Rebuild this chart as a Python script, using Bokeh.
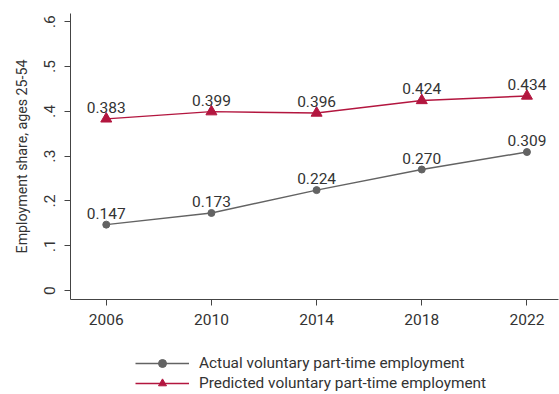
from bokeh.plotting import figure
from bokeh.layouts import column
from bokeh.models import (Range1d, FixedTicker, CustomJSTickFormatter, Legend, LegendItem,
                          ColumnDataSource)
from bokeh.core.properties import value
from bokeh.embed import file_html
from bokeh.resources import INLINE

years = [2006, 2010, 2014, 2018, 2022]
actual = [0.147, 0.173, 0.224, 0.270, 0.309]
predicted = [0.383, 0.399, 0.396, 0.424, 0.434]
y_ticks = [0, 0.1, 0.2, 0.3, 0.4, 0.5, 0.6]
x_ticks = years
y_title = "Employment share, ages 25-54"
names = ["Actual voluntary part-time employment", "Predicted voluntary part-time employment"]

GREY = "#636363"
RED = "#b3163f"
TXT = "#333333"
FONT = "Roboto"

p = figure(frame_width=488, frame_height=286, output_backend="svg", toolbar_location=None,
           x_range=Range1d(2004.64, 2023.2), y_range=Range1d(-0.02, 0.618),
           min_border_left=70, min_border_right=1, min_border_top=13, min_border_bottom=36)
p.outline_line_color = None
p.grid.visible = False
p.background_fill_color = "white"
p.border_fill_color = "white"

src_a = ColumnDataSource(dict(x=years, y=actual, t=[f"{v:.3f}" for v in actual]))
src_p = ColumnDataSource(dict(x=years, y=predicted, t=[f"{v:.3f}" for v in predicted]))

p.line("x", "y", source=src_a, line_color=GREY, line_width=1.4)
p.scatter("x", "y", source=src_a, marker="circle", size=7, fill_color=GREY, line_color=GREY)
p.line("x", "y", source=src_p, line_color=RED, line_width=1.4)
p.scatter("x", "y", source=src_p, marker="triangle", size=11, fill_color=RED, line_color=RED)

for s in (src_a, src_p):
    p.text("x", "y", text="t", source=s, text_align="center", text_baseline="bottom",
           y_offset=-6, text_font=value(FONT), text_font_size="15.5px", text_color=TXT)

for ax in (p.xaxis[0], p.yaxis[0]):
    ax.axis_line_color = "#444444"
    ax.major_tick_line_color = "#444444"
    ax.major_tick_out = 6
    ax.major_tick_in = 0
    ax.minor_tick_line_color = None
    ax.major_label_text_font = FONT
    ax.major_label_text_font_size = "15.5px"
    ax.major_label_text_color = TXT

p.xaxis.major_label_standoff = 8
p.yaxis.major_label_standoff = 9
p.xaxis.ticker = FixedTicker(ticks=x_ticks)
p.yaxis.ticker = FixedTicker(ticks=y_ticks)
p.yaxis.formatter = CustomJSTickFormatter(code="""
if (Math.abs(tick) < 1e-9) return '0';
return tick.toFixed(1).replace(/^0/, '');
""")
p.yaxis.major_label_orientation = "vertical"
p.yaxis.axis_label = y_title
p.yaxis.axis_label_text_font = FONT
p.yaxis.axis_label_text_font_size = "14.2px"
p.yaxis.axis_label_text_font_style = "normal"
p.yaxis.axis_label_text_color = TXT
p.yaxis.axis_label_standoff = 12

# legend panel (its series lie outside its own ranges, so only the legend shows)
q = figure(width=559, height=59, output_backend="svg", toolbar_location=None,
           x_range=Range1d(0, 1), y_range=Range1d(0, 1),
           x_axis_location=None, y_axis_location=None,
           min_border=0)
q.outline_line_color = None
q.grid.visible = False
la = q.line("x", "y", source=src_a, line_color=GREY, line_width=1.4)
ma = q.scatter("x", "y", source=src_a, marker="circle", size=6, fill_color=GREY, line_color=GREY)
lp = q.line("x", "y", source=src_p, line_color=RED, line_width=1.4)
mp = q.scatter("x", "y", source=src_p, marker="triangle", size=10, fill_color=RED, line_color=RED)

legend = Legend(items=[LegendItem(label=names[0], renderers=[la, ma]),
                       LegendItem(label=names[1], renderers=[lp, mp])],
                location=(65, 1), orientation="vertical",
                border_line_color=None, background_fill_alpha=0,
                label_text_font=FONT, label_text_font_size="15.4px", label_text_color=TXT,
                glyph_width=54, glyph_height=20, label_height=20, label_standoff=10, spacing=0,
                padding=0, margin=0)
q.add_layout(legend, "center")

layout = column(p, q, spacing=0)
open("out.html", "w").write(file_html(layout, INLINE))
